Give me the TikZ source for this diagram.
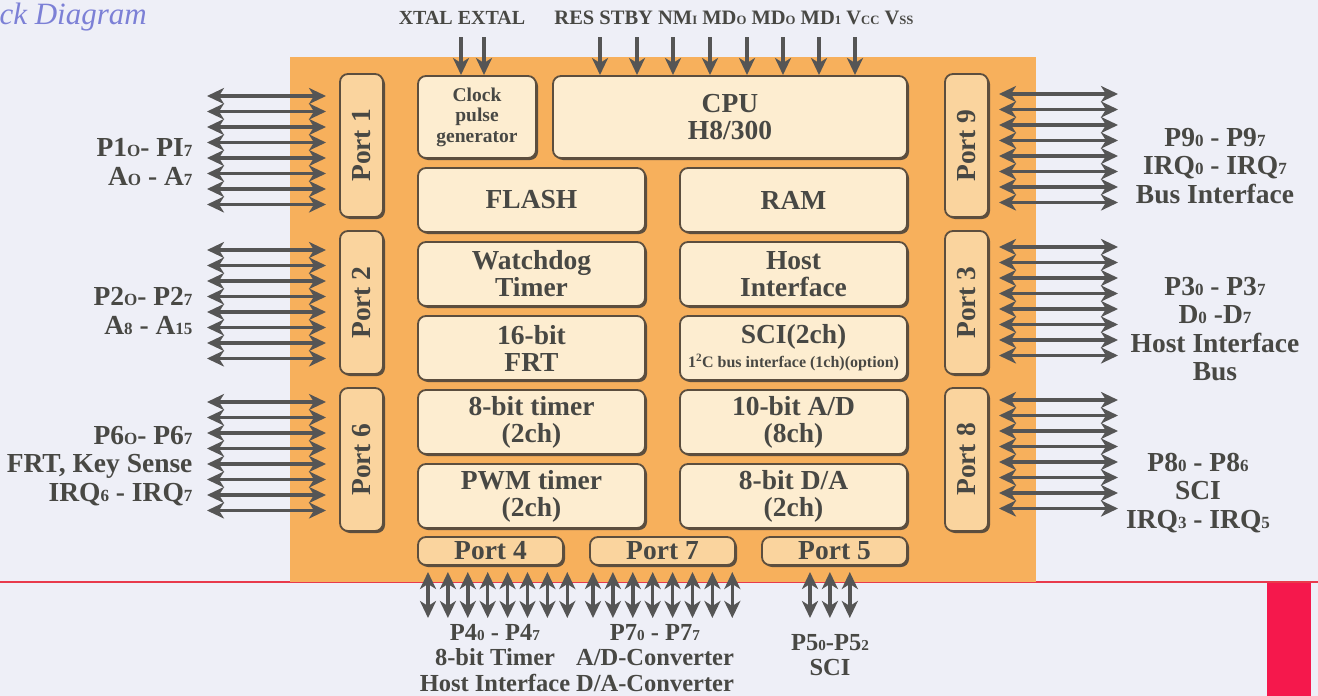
\documentclass[tikz,border=0pt]{standalone}
\usepackage{fontspec}
\setmainfont{Liberation Serif}
\usetikzlibrary{arrows.meta, positioning, shadows}
\definecolor{paperbg}{RGB}{238, 239, 247}
\definecolor{chiporange}{RGB}{247, 176, 92}
\definecolor{blockfill}{RGB}{253, 237, 208}
\definecolor{portfill}{RGB}{250, 212, 158}
\definecolor{blockline}{RGB}{92, 78, 62}
\definecolor{pingray}{RGB}{85, 85, 85}
\definecolor{labelgray}{RGB}{72, 72, 68}
\definecolor{titleblue}{RGB}{124, 128, 214}
\definecolor{markred}{RGB}{232, 58, 76}
\definecolor{tabred}{RGB}{245, 24, 76}
\newcommand{\lo}[1]{\scalebox{0.62}{#1}}
\newcommand{\fs}[2]{\fontsize{#1}{#2}\selectfont}

\begin{document}
\begin{tikzpicture}[
    x=1pt, y=-1pt,
    >={Stealth[length=17pt, width=16pt, inset=5pt]},
    block/.style={draw=blockline, line width=1.8pt, rounded corners=8pt, fill=blockfill,
                  align=center, text=labelgray, font=\bfseries\fs{27.5}{27}, inner sep=2pt,
                  outer sep=0pt,
                  drop shadow={shadow xshift=2pt, shadow yshift=-2pt, fill=blockline, opacity=1}},
    wide/.style={block, minimum width=227pt, minimum height=64pt},
    vport/.style={block, fill=portfill, minimum width=43pt, minimum height=143pt},
    hport/.style={block, fill=portfill, minimum width=145pt, minimum height=28pt, inner sep=0pt},
    ioline/.style={draw=pingray, line width=3.4pt, <->},
    sigline/.style={draw=pingray, line width=3.4pt, ->},
    outlabel/.style={text=labelgray, font=\bfseries\fs{27.5}{28.5}, align=center},
    botlabel/.style={text=labelgray, font=\bfseries\fs{24.5}{25.5}, align=center}
]
    \useasboundingbox (0,0) rectangle (1318,696);
    \fill[paperbg] (0,0) rectangle (1318,696);
    \draw[markred, line width=2pt] (0,582) -- (1318,582);
    \fill[tabred] (1267,583) rectangle (1311,696);
    \fill[chiporange] (290,57) rectangle (1036,582);

    \node[text=titleblue, font=\itshape\fs{31}{31}, anchor=west] (title) at (-4,17) {ck Diagram};

    % inner blocks
    \node[block, minimum width=118pt, minimum height=82pt, font=\bfseries\fs{19.5}{20.5}] (clk) at (477,117)
        {Clock\\pulse\\generator};
    \node[block, minimum width=354pt, minimum height=82pt, right=17pt of clk] (cpu) {CPU\\H8/300};
    \node[wide, anchor=north west] (flash) at (418,168) {FLASH};
    \node[wide, right=35pt of flash] (ram) {RAM};
    \node[wide, below=10pt of flash] (wdt) {Watchdog\\Timer};
    \node[wide, right=35pt of wdt] (host) {Host\\Interface};
    \node[wide, below=10pt of wdt] (frt) {16-bit\\FRT};
    \node[wide, right=35pt of frt] (sci) {SCI(2ch)\\[-3pt]
        {\fs{16}{16}1\textsuperscript{2}C bus interface (1ch)(option)}};
    \node[wide, below=10pt of frt] (tmr) {8-bit timer\\(2ch)};
    \node[wide, right=35pt of tmr] (adc) {10-bit A/D\\(8ch)};
    \node[wide, below=10pt of tmr] (pwm) {PWM timer\\(2ch)};
    \node[wide, right=35pt of pwm] (dac) {8-bit D/A\\(2ch)};

    % ports
    \node[vport] (p1) at (361.5,145.5) {\rotatebox{90}{Port 1}};
    \node[vport, below=14pt of p1] (p2) {\rotatebox{90}{Port 2}};
    \node[vport, below=14pt of p2] (p6) {\rotatebox{90}{Port 6}};
    \node[vport] (p9) at (966.5,145.5) {\rotatebox{90}{Port 9}};
    \node[vport, below=14pt of p9] (p3) {\rotatebox{90}{Port 3}};
    \node[vport, below=14pt of p3] (p8) {\rotatebox{90}{Port 8}};
    \node[hport] (p4) at (490.5,551) {Port 4};
    \node[hport, right=27pt of p4] (p7) {Port 7};
    \node[hport, right=27pt of p7] (p5) {Port 5};

    % side pins
    \foreach \p/\y in {p1/96, p2/250, p6/402} {
        \foreach \i in {0,...,7} {
            \coordinate (\p-\i) at (207,{\y+15.5*\i});
            \draw[ioline, shorten >=14pt] (\p-\i) -- (\p-\i -| \p.west);
        }
    }
    \foreach \p/\y in {p9/94, p3/247, p8/400} {
        \foreach \i in {0,...,7} {
            \coordinate (\p-\i) at (1118,{\y+15.5*\i});
            \draw[ioline, shorten >=11pt] (\p-\i) -- (\p-\i -| \p.east);
        }
    }

    % bottom pins
    \foreach \p/\x/\n in {p4/428/7, p7/593/7, p5/810/2} {
        \foreach \i in {0,...,\n} {
            \coordinate (\p-\i) at ({\x+19.9*\i},618);
            \draw[ioline, shorten >=7pt] (\p-\i) -- (\p-\i |- \p.south);
        }
    }

    % control inputs
    \foreach \x [count=\i] in {461,484} {
        \coordinate (ck\i) at (\x,37);
        \draw[sigline, shorten >=1pt] (ck\i) -- (ck\i |- clk.north);
    }
    \foreach \x [count=\i] in {600,637,673,710,747,783,819,855} {
        \coordinate (ctl\i) at (\x,37);
        \draw[sigline, shorten >=1pt] (ctl\i) -- (ctl\i |- cpu.north);
    }

    % labels
    \node[outlabel, font=\bfseries\fs{20}{20}] (xtal) at (462,18) {XTAL EXTAL};
    \node[outlabel, font=\bfseries\fs{20.5}{20}] (ctl) at (734,18)
        {RES STBY NM\lo{I} MD\lo{O} MD\lo{O} MD\lo{1} V\lo{CC} V\lo{SS}};
    \node[outlabel, anchor=east, align=right] (lab1) at (196,162)
        {P1\lo{O}- PI\lo{7}\\A\lo{O} - A\lo{7}};
    \node[outlabel, anchor=east, align=right] (lab2) at (196,311)
        {P2\lo{O}- P2\lo{7}\\A\lo{8} - A\lo{15}};
    \node[outlabel, anchor=east, align=right] (lab6) at (196,466)
        {P6\lo{O}- P6\lo{7}\\FRT, Key Sense\\IRQ\lo{6} - IRQ\lo{7}};
    \node[outlabel] (lab9) at (1215,166)
        {P9\lo{0} - P9\lo{7}\\IRQ\lo{0} - IRQ\lo{7}\\Bus Interface};
    \node[outlabel] (lab3) at (1215,329)
        {P3\lo{0} - P3\lo{7}\\D\lo{0} -D\lo{7}\\Host Interface\\Bus};
    \node[outlabel] (lab8) at (1198,493)
        {P8\lo{0} - P8\lo{6}\\SCI\\IRQ\lo{3} - IRQ\lo{5}};
    \node[botlabel] (lab4) at (495,658)
        {P4\lo{0} - P4\lo{7}\\8-bit Timer\\Host Interface};
    \node[botlabel] (lab7) at (655,658)
        {P7\lo{0} - P7\lo{7}\\A/D-Converter\\D/A-Converter};
    \node[botlabel] (lab5) at (830,655)
        {P5\lo{0}-P5\lo{2}\\SCI};
\end{tikzpicture}
\end{document}
